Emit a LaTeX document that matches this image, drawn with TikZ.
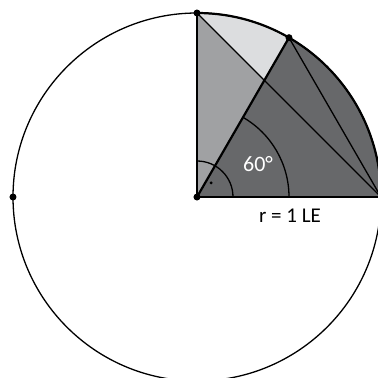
\documentclass[tikz,border=0pt]{standalone}
\usepackage{fontspec}
\setmainfont{Carlito}
\definecolor{darkgrey}{HTML}{67686A}
\definecolor{midgrey}{HTML}{A0A1A3}
\definecolor{lightgrey}{HTML}{DCDDDF}
\tikzset{
  thickline/.style={line width=2.2pt},
  thinline/.style={line width=1.3pt},
  pointdot/.style={circle, fill=black, inner sep=0pt, minimum size=7pt},
}
\begin{document}
\begin{tikzpicture}[x=1pt,y=1pt]
  \useasboundingbox (-197,-181) rectangle (181,197);
  \coordinate (o) at (0, 0);
  \coordinate (t) at (90:184);
  \coordinate (p) at (60:184);
  \coordinate (r) at (0:184);
  \coordinate (l) at (180:184);
  \coordinate (s) at (intersection of o--p and t--r);
  \fill[lightgrey] (o) -- (p) arc (60:90:184) -- cycle;
  \fill[midgrey] (o) -- (s) -- (t) -- cycle;
  \fill[darkgrey] (o) -- (r) arc (0:60:184) -- cycle;
  \draw[thinline] (o) circle (184);
  \draw[thickline] (r) arc (0:90:184);
  \draw[thinline] (t) -- (r);
  \draw[thinline] (p) -- (r);
  \draw[thinline] (92, 0) arc (0:60:92);
  \draw[thinline] (36, 0) arc (0:90:36);
  \fill (45:20) circle (1.6);
  \draw[thickline] (o) -- (t);
  \draw[thickline] (o) -- (r);
  \draw[thickline] (o) -- (p);
  \node[pointdot] at (o) {};
  \node[pointdot] at (t) {};
  \node[pointdot] at (p) {};
  \node[pointdot] at (l) {};
  \node[text=white, font=\fontsize{22}{22}\selectfont] at (61, 33) {60°};
  \node[font=\fontsize{21}{21}\selectfont] at (93, -19) {r = 1 LE};
\end{tikzpicture}
\end{document}
